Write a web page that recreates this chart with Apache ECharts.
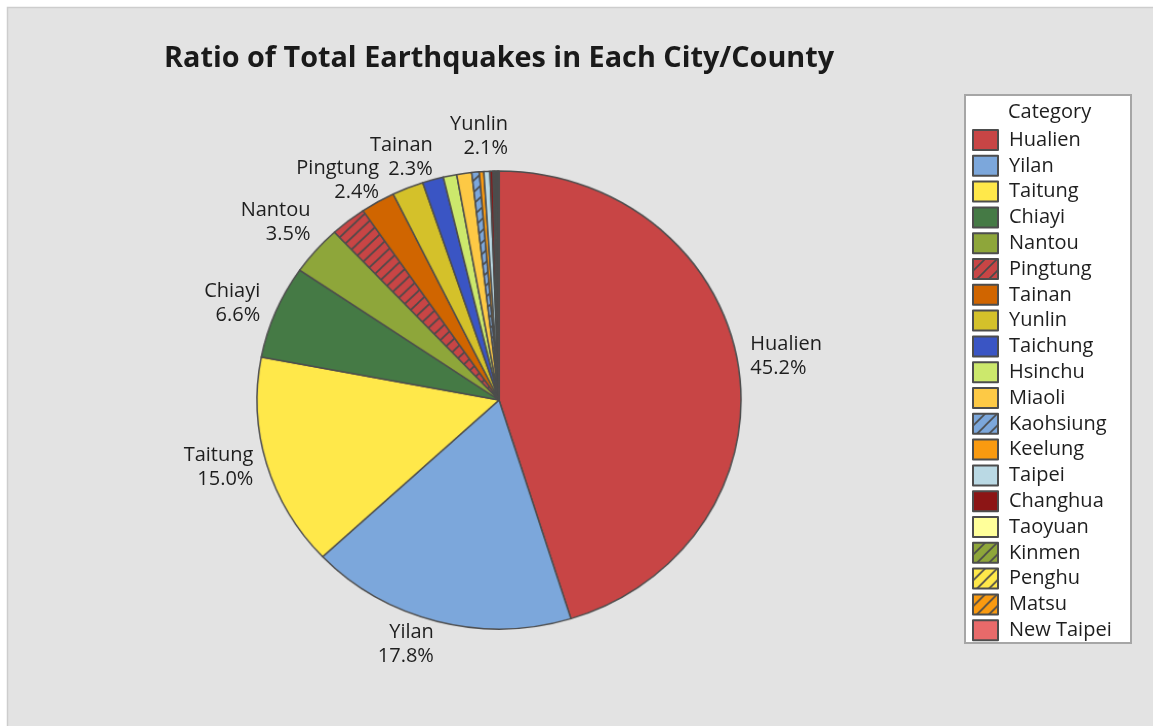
<!DOCTYPE html>
<html>
<head>
<meta charset="utf-8">
<title>Ratio of Total Earthquakes in Each City/County</title>
<script src="https://cdn.jsdelivr.net/npm/echarts@6/dist/echarts.min.js"></script>
<style>
  html, body { margin: 0; padding: 0; background: #ffffff; }
  #wrap { position: relative; width: 1153px; height: 726px; }
  #chart, #pie { position: absolute; left: 0; top: 0; width: 1153px; height: 726px; }
  /* the pie is drawn slightly wider than tall */
  #pie { pointer-events: none; transform-origin: 499px 400px; transform: scale(1.0254, 0.9703); }
</style>
</head>
<body>
<div id="wrap">
  <div id="chart"></div>
  <div id="pie"></div>
</div>
<script>
// Share of all recorded earthquakes by city / county (percent)
const categories = [
  'Hualien', 'Yilan', 'Taitung', 'Chiayi', 'Nantou', 'Pingtung', 'Tainan',
  'Yunlin', 'Taichung', 'Hsinchu', 'Miaoli', 'Kaohsiung', 'Keelung', 'Taipei',
  'Changhua', 'Taoyuan', 'Kinmen', 'Penghu', 'Matsu', 'New Taipei'
];
const shares = [
  45.2, 17.8, 15.0, 6.6, 3.5, 2.4, 2.3,
  2.1, 1.4, 0.9, 1.0, 0.5, 0.3, 0.4,
  0.2, 0.1, 0.1, 0.1, 0.05, 0.05
];
// Only the larger slices carry a name / percent label
const labelledCount = 8;

const sliceColors = [
  '#c84545', '#7ca7db', '#ffe84a', '#457a45', '#8ea63a', '#c84545', '#d06500',
  '#d4c12a', '#3a55c4', '#cce86c', '#fdc945', '#7ca7db', '#f99a10', '#bad9e4',
  '#8c1515', '#ffff9a', '#8ea63a', '#ffe84a', '#f99a10', '#e86a6a'
];
const hatched = ['Pingtung', 'Kaohsiung', 'Kinmen', 'Penghu', 'Matsu'];

// Pie geometry
const PIE_CX = 499, PIE_CY = 400, PIE_R = 236;
// Label offsets from the rim point at each slice's mid angle, so the
// crowded small-slice labels fan out above the pie
const labelNudge = [
  [18, -8], [-5, 16], [-19, 1], [-21, -6],
  [-10, -23], [27, -35], [52, -38], [98, -45]
];

// Diagonal "/" hatch fill on top of a base colour
function hatchPattern(base) {
  const s = 12;
  const c = document.createElement('canvas');
  c.width = s; c.height = s;
  const g = c.getContext('2d');
  g.fillStyle = base;
  g.fillRect(0, 0, s, s);
  g.strokeStyle = '#4a4a4a';
  g.lineWidth = 1.6;
  g.beginPath();
  g.moveTo(0, s); g.lineTo(s, 0);
  g.moveTo(-2, 2); g.lineTo(2, -2);
  g.moveTo(s - 2, s + 2); g.lineTo(s + 2, s - 2);
  g.stroke();
  return { image: c, repeat: 'repeat' };
}

// Mid angle of every slice, clockwise from 12 o'clock (radians)
const total = shares.reduce((a, b) => a + b, 0);
const midAngles = [];
shares.reduce((acc, v) => {
  midAngles.push((acc + v / 2) / total * Math.PI * 2);
  return acc + v;
}, 0);

const FONT = '"Open Sans", "Noto Sans", sans-serif';

function buildPieData(withLabels) {
  return categories.map((name, i) => ({
    name: name,
    value: shares[i],
    itemStyle: {
      color: hatched.includes(name) ? hatchPattern(sliceColors[i]) : sliceColors[i]
    },
    label: { show: withLabels && i < labelledCount }
  }));
}

const sliceStyle = { borderColor: '#4d4d4d', borderWidth: 1.5 };

// Main chart: panel, title, legend and slice labels
const chart = echarts.init(document.getElementById('chart'), null, { renderer: 'canvas' });
chart.setOption({
  animation: false,
  backgroundColor: '#ffffff',
  graphic: [
    {
      type: 'rect',
      z: -10,
      shape: { x: 7.5, y: 7.5, width: 1170, height: 740 },
      style: { fill: '#e3e3e3', stroke: '#cdcdcd', lineWidth: 1.5 }
    },
    {
      type: 'rect',
      z: -5,
      shape: { x: 965, y: 95, width: 166, height: 548 },
      style: { fill: '#ffffff', stroke: '#a6a6a6', lineWidth: 2 }
    },
    {
      type: 'text',
      left: 1008,
      top: 102,
      style: { text: 'Category', font: '20px ' + FONT, fill: '#1e1e1e' }
    }
  ],
  title: {
    text: 'Ratio of Total Earthquakes in Each City/County',
    left: 159,
    top: 39,
    textStyle: { fontFamily: FONT, fontSize: 28.8, fontWeight: 'bold', color: '#1a1a1a' }
  },
  legend: {
    orient: 'vertical',
    left: 972,
    top: 129,
    padding: 0,
    itemWidth: 25,
    itemHeight: 20,
    itemGap: 3.8,
    selectedMode: false,
    icon: 'rect',
    data: categories,
    textStyle: {
      fontFamily: FONT, fontSize: 20, lineHeight: 20, color: '#1e1e1e',
      padding: [0, 0, 0, 6]
    }
  },
  series: [{
    type: 'pie',
    center: [PIE_CX, PIE_CY],
    radius: PIE_R - 8,
    startAngle: 90,
    clockwise: true,
    avoidLabelOverlap: false,
    data: buildPieData(true),
    itemStyle: sliceStyle,
    label: {
      position: 'outside',
      fontFamily: FONT,
      fontSize: 20,
      lineHeight: 24,
      color: '#1e1e1e',
      formatter: p => p.name + '\n' + p.value.toFixed(1) + '%'
    },
    labelLine: { show: false },
    labelLayout: function (params) {
      const i = params.dataIndex;
      const a = midAngles[i];
      const s = Math.sin(a), c = Math.cos(a);
      const n = labelNudge[i] || [0, 0];
      return {
        x: PIE_CX + PIE_R * s + n[0],
        y: PIE_CY - PIE_R * c + n[1],
        align: s < 0 ? 'right' : 'left',
        verticalAlign: 'middle'
      };
    },
    emphasis: { disabled: true }
  }]
});

// Pie layer on top, stretched into a slight ellipse by its container
const pie = echarts.init(document.getElementById('pie'), null, { renderer: 'canvas' });
pie.setOption({
  animation: false,
  backgroundColor: 'transparent',
  series: [{
    type: 'pie',
    center: [PIE_CX, PIE_CY],
    radius: PIE_R,
    startAngle: 90,
    clockwise: true,
    data: buildPieData(false),
    itemStyle: sliceStyle,
    label: { show: false },
    labelLine: { show: false },
    emphasis: { disabled: true }
  }]
});
</script>
</body>
</html>
